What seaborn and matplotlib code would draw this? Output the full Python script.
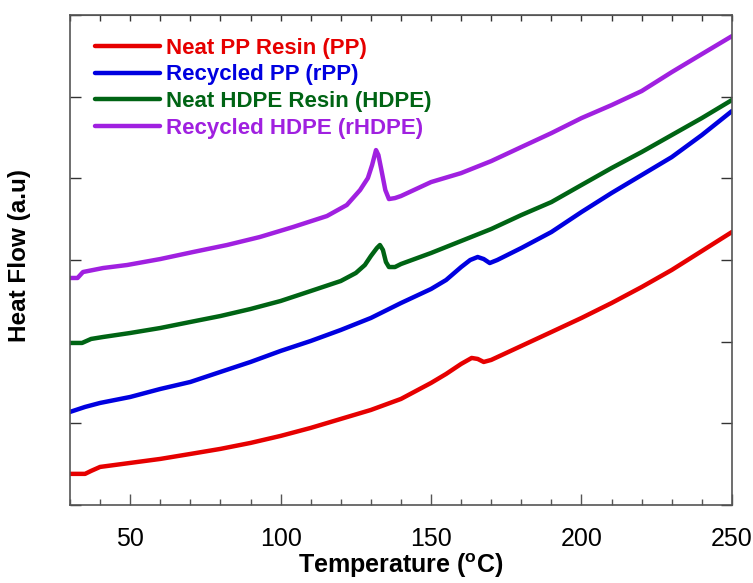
import numpy as np
import pandas as pd
import matplotlib
matplotlib.use("Agg")
import matplotlib.pyplot as plt
import seaborn as sns
from matplotlib.ticker import MultipleLocator, NullFormatter

# DSC traces (temperature in C, heat flow in a.u.)
pp_temp = [30, 35, 37, 40, 50, 60, 70, 80, 90, 100, 110, 120, 130, 140, 150, 155, 160,
           163.5, 165.5, 167.5, 170, 180, 190, 200, 210, 220, 230, 240, 250]
pp_flow = [0.380, 0.380, 0.416, 0.465, 0.514, 0.563, 0.624, 0.686, 0.759, 0.845, 0.943,
           1.053, 1.163, 1.298, 1.494, 1.604, 1.727, 1.800, 1.788, 1.751, 1.776, 1.947,
           2.118, 2.290, 2.473, 2.669, 2.878, 3.110, 3.343]

rpp_temp = [30, 35, 40, 50, 60, 70, 80, 90, 100, 110, 120, 130, 140, 150, 155, 160, 163,
            165.5, 167.5, 169.5, 172, 180, 190, 200, 210, 220, 230, 240, 250]
rpp_flow = [1.139, 1.200, 1.249, 1.322, 1.420, 1.506, 1.629, 1.751, 1.886, 2.008, 2.143,
            2.290, 2.473, 2.645, 2.755, 2.914, 3.000, 3.037, 3.012, 2.963, 3.000, 3.147,
            3.343, 3.588, 3.821, 4.041, 4.261, 4.531, 4.825]

hdpe_temp = [30, 34, 37, 41, 50, 60, 70, 80, 90, 100, 110, 120, 125, 128, 130, 132, 133,
             134, 135, 136, 138, 140, 150, 160, 170, 180, 190, 200, 210, 220, 230, 240, 250]
hdpe_flow = [1.984, 1.984, 2.033, 2.057, 2.106, 2.167, 2.241, 2.314, 2.400, 2.498, 2.620,
             2.743, 2.841, 2.939, 3.049, 3.147, 3.184, 3.123, 2.976, 2.914, 2.914, 2.951,
             3.086, 3.233, 3.380, 3.551, 3.710, 3.919, 4.127, 4.323, 4.531, 4.739, 4.960]

rhdpe_temp = [30, 32.5, 34.3, 41, 49, 60, 70.9, 82.2, 93.1, 104.1, 115.4, 122, 126.4, 129,
              130.4, 131.7, 132.5, 133.5, 134.8, 136, 138, 140, 150, 160, 170, 180, 190,
              200, 210, 220, 230, 240, 250]
rhdpe_flow = [2.780, 2.780, 2.853, 2.902, 2.939, 3.012, 3.098, 3.184, 3.282, 3.404, 3.539,
              3.674, 3.857, 4.004, 4.163, 4.347, 4.286, 4.102, 3.857, 3.747, 3.759, 3.784,
              3.955, 4.065, 4.212, 4.384, 4.555, 4.739, 4.898, 5.070, 5.302, 5.523, 5.743]

labels = ["Neat PP Resin (PP)", "Recycled PP (rPP)", "Neat HDPE Resin (HDPE)", "Recycled HDPE (rHDPE)"]
colors = ["#E60000", "#0000E0", "#006414", "#A020E0"]

frames = []
for lab, t, f in zip(labels, [pp_temp, rpp_temp, hdpe_temp, rhdpe_temp],
                     [pp_flow, rpp_flow, hdpe_flow, rhdpe_flow]):
    frames.append(pd.DataFrame({"Temperature": t, "Heat Flow": f, "Sample": lab}))
df = pd.concat(frames, ignore_index=True)

sns.set_style("ticks")
plt.rcParams["font.family"] = ["Liberation Sans", "DejaVu Sans"]
plt.rcParams["mathtext.fontset"] = "custom"
plt.rcParams["mathtext.bf"] = "Liberation Sans:bold"
plt.rcParams["mathtext.rm"] = "Liberation Sans"

fig = plt.figure(figsize=(7.53, 5.83), dpi=100)
ax = fig.add_axes([0.093, 0.134, 0.879, 0.840])

sns.lineplot(data=df, x="Temperature", y="Heat Flow", hue="Sample",
             palette=dict(zip(labels, colors)), sort=False, estimator=None,
             linewidth=3.2, ax=ax)

ax.set_xlim(30, 250)
ax.set_ylim(0, 6)
ax.xaxis.set_major_locator(MultipleLocator(50))
ax.xaxis.set_minor_locator(MultipleLocator(10))
ax.yaxis.set_major_locator(MultipleLocator(1))
ax.yaxis.set_major_formatter(NullFormatter())

ax.tick_params(axis="x", which="major", direction="in", length=8, width=1,
               color="#555555", labelsize=18, labelcolor="black", pad=16)
ax.tick_params(axis="x", which="minor", direction="in", length=4, width=1, color="#555555")
ax.tick_params(axis="y", which="major", direction="in", length=8, width=1,
               color="#333333", left=True, right=True)

top = ax.secondary_xaxis("top")
top.xaxis.set_major_locator(MultipleLocator(10))
top.xaxis.set_major_formatter(NullFormatter())
top.tick_params(direction="in", length=4, width=1, color="#333333")
top.spines["top"].set_color("#555555")

for s in ax.spines.values():
    s.set_color("#555555")
    s.set_linewidth(1.2)

ax.set_xlabel(r"Temperature ($^\mathbf{o}$C)", fontsize=18, fontweight="bold",
              color="black", labelpad=0)
ax.set_ylabel("Heat Flow (a.u)", fontsize=17.5, fontweight="bold", color="black")
ax.yaxis.set_label_coords(-0.059, 0.51)

leg = ax.legend(loc="upper left", bbox_to_anchor=(0.008, 0.995), frameon=False,
                handlelength=2.9, handletextpad=0.3, labelspacing=0.26,
                prop={"weight": "bold", "size": 16}, labelcolor="linecolor")
for line in leg.get_lines():
    line.set_linewidth(3.2)

fig.savefig("out.png", dpi=100)
